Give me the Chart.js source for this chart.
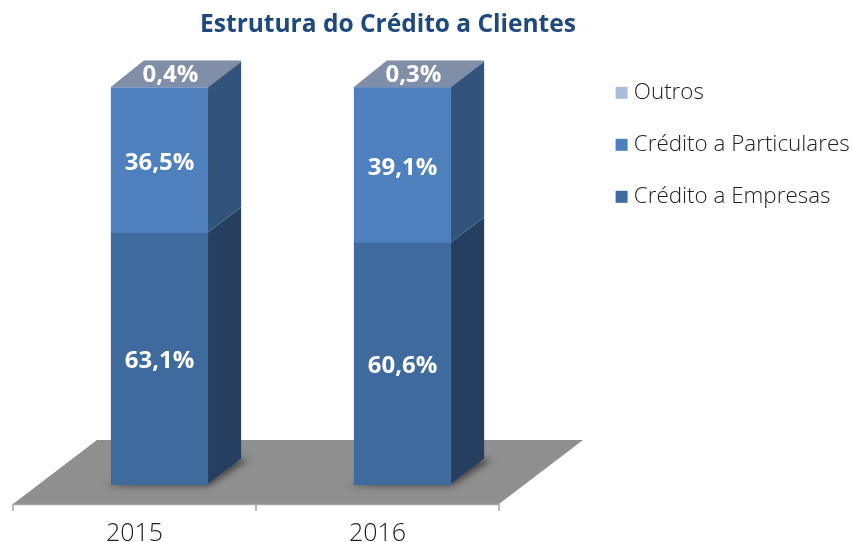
<!DOCTYPE html>
<html><head><meta charset="utf-8">
<style>html,body{margin:0;padding:0;background:#fff}canvas{display:block}</style>
<script src="https://cdn.jsdelivr.net/npm/chart.js@4"></script>
</head><body><canvas id="c" width="853" height="542"></canvas>
<script>
const categories = ['2015', '2016'];
const empresas = [63.1, 60.6];
const particulares = [36.5, 39.1];
const outros = [0.4, 0.3];
const seriesNames = ['Crédito a Empresas', 'Crédito a Particulares', 'Outros'];
const frontColors = ['#3f6a9e', '#4e80bd', '#aabbdb'];
const sideColors = ['#263f60', '#31537c', '#5a7396'];
const topColor = '#808ea8';
const DX = 34, DY = -26.5, SHIFT = 25;
const fmt = v => v.toFixed(1).replace('.', ',') + '%';

const scene = {
  id: 'scene',
  afterLayout(chart) {
    const lg = chart.legend;
    lg.left = 591; lg.right = 853; lg.top = 52; lg.bottom = 542;
    const t = chart.titleBlock;
    t.left = 0; t.right = 776;
  },
  beforeDatasetsDraw(chart) {
    const { ctx, chartArea: a } = chart;
    const L = a.left - SHIFT, R = a.right - SHIFT, F = a.bottom + 19, B = a.bottom - 45;
    const bdx = 84;
    ctx.save();
    // floor
    ctx.fillStyle = '#8f8f8f';
    ctx.beginPath();
    ctx.moveTo(L, F); ctx.lineTo(R, F); ctx.lineTo(R + bdx, B); ctx.lineTo(L + bdx, B);
    ctx.closePath(); ctx.fill();
    // axis line and ticks
    ctx.strokeStyle = '#a6a6a6'; ctx.lineWidth = 1.5;
    ctx.beginPath(); ctx.moveTo(L, F + .5); ctx.lineTo(R, F + .5);
    const step = (R - L) / categories.length;
    for (let i = 0; i <= categories.length; i++) {
      const x = L + i * step;
      ctx.moveTo(x, F); ctx.lineTo(x, F + 7);
    }
    ctx.stroke();
    // bar bases, shadows, sides
    const metas = chart.getSortedVisibleDatasetMetas();
    metas[0].data.forEach((_, i) => {
      const base = metas[0].data[i];
      const l = base.x - base.width / 2, r = base.x + base.width / 2, y = base.base;
      ctx.save();
      ctx.filter = 'blur(3px)';
      ctx.fillStyle = 'rgba(50,50,50,.75)';
      ctx.beginPath();
      ctx.moveTo(l - 7, y + 1); ctx.lineTo(r + 2, y + 1); ctx.lineTo(r + DX + 8, y + DY + 1);
      ctx.lineTo(r + DX - 20, y + DY); ctx.closePath(); ctx.fill();
      ctx.restore();
    });
    metas.forEach((meta, d) => {
      meta.data.forEach(bar => {
        const r = bar.x + bar.width / 2;
        ctx.fillStyle = sideColors[d];
        ctx.beginPath();
        ctx.moveTo(r - 1, bar.base); ctx.lineTo(r + DX, bar.base + DY);
        ctx.lineTo(r + DX, bar.y + DY); ctx.lineTo(r - 1, bar.y);
        ctx.closePath(); ctx.fill();
      });
    });
    // top face
    metas[metas.length - 1].data.forEach(bar => {
      const l = bar.x - bar.width / 2 - 1, r = bar.x + bar.width / 2 + 1;
      ctx.fillStyle = topColor;
      ctx.beginPath();
      ctx.moveTo(l, bar.y); ctx.lineTo(r, bar.y); ctx.lineTo(r + DX - 1, bar.y + DY); ctx.lineTo(l + DX - 1, bar.y + DY);
      ctx.closePath(); ctx.fill();
    });
    ctx.restore();
  },
  afterDatasetsDraw(chart) {
    const { ctx } = chart;
    const metas = chart.getSortedVisibleDatasetMetas();
    ctx.save();
    ctx.fillStyle = '#fff';
    ctx.font = 'bold 24px "Open Sans"';
    ctx.textAlign = 'center'; ctx.textBaseline = 'middle';
    metas.forEach((meta, d) => {
      const values = chart.data.datasets[d].data;
      meta.data.forEach((bar, i) => {
        if (d === 2) ctx.fillText(fmt(values[i]), bar.x + 11, bar.y + DY / 2 + 1);
        else ctx.fillText(fmt(values[i]), bar.x, (bar.y + bar.base) / 2 + 2);
      });
    });
    ctx.restore();
  }
};

new Chart(document.getElementById('c'), {
  type: 'bar',
  plugins: [scene],
  data: {
    labels: categories,
    datasets: [
      { label: seriesNames[0], data: empresas, backgroundColor: frontColors[0], inflateAmount: 1 },
      { label: seriesNames[1], data: particulares, backgroundColor: frontColors[1], inflateAmount: 1 },
      { label: seriesNames[2], data: outros, backgroundColor: frontColors[2], inflateAmount: 1 }
    ]
  },
  options: {
    responsive: false,
    animation: false,
    layout: { padding: { left: 38, right: 329, top: 0, bottom: 0 } },
    datasets: { bar: { barPercentage: 0.392, categoryPercentage: 1 } },
    scales: {
      x: {
        stacked: true,
        grid: { display: false },
        border: { display: false },
        afterFit(s) { s.height = 57; },
        ticks: {
          color: '#222',
          font: { family: '"Open Sans"', size: 25, weight: '300' },
          labelOffset: -SHIFT,
          padding: 26,
          maxRotation: 0
        }
      },
      y: { stacked: true, display: false, min: 0, max: 100 }
    },
    plugins: {
      tooltip: { enabled: false },
      title: {
        display: true,
        text: 'Estrutura do Crédito a Clientes',
        color: '#1f497d',
        font: { family: '"Open Sans"', size: 24.5, weight: 'bold', lineHeight: 1.2 },
        padding: { top: 10, bottom: 47.6 }
      },
      legend: {
        position: 'chartArea',
        align: 'start',
        reverse: true,
        labels: {
          color: '#222',
          font: { family: '"Open Sans"', size: 22.4, weight: '300', lineHeight: 1.2 },
          usePointStyle: true,
          pointStyle: 'rect',
          boxWidth: 2,
          boxHeight: 12,
          padding: 29.6
        }
      }
    }
  }
});
</script></body></html>
